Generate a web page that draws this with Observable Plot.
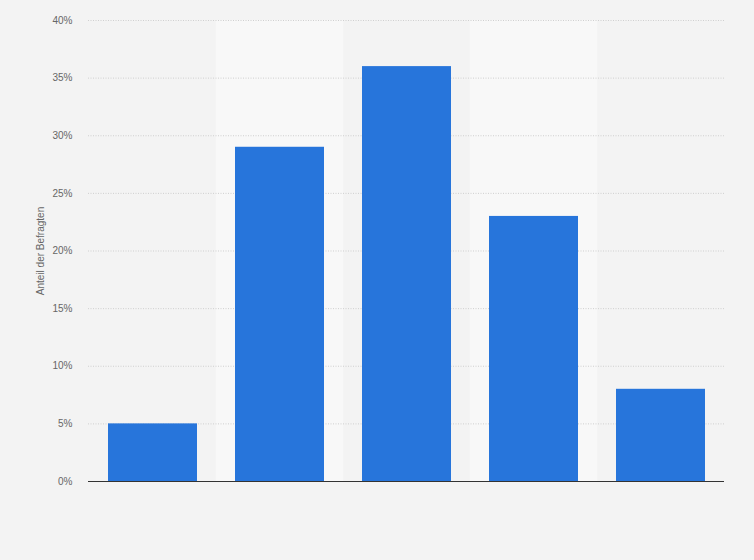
<!DOCTYPE html>
<html>
<head>
<meta charset="utf-8">
<script src="https://cdn.jsdelivr.net/npm/d3@7"></script>
<script src="https://cdn.jsdelivr.net/npm/@observablehq/plot@0.6"></script>
<style>
  html, body { margin: 0; padding: 0; background: #f3f3f3; }
  #chart svg { display: block; }
</style>
</head>
<body>
<div id="chart"></div>
<script>
const categories = ["1", "2", "3", "4", "5"];
const values = [5, 29, 36, 23, 8];
const yTicks = [0, 5, 10, 15, 20, 25, 30, 35, 40];
const shadedCategories = ["2", "4"];

const data = categories.map((c, i) => ({category: c, value: values[i]}));
const bands = shadedCategories.map(c => ({category: c}));

const chart = Plot.plot({
  width: 754,
  height: 560,
  marginLeft: 88,
  marginRight: 30,
  marginTop: 20,
  marginBottom: 79,
  style: {background: "#f3f3f3", fontFamily: "'Liberation Sans', Arial, sans-serif", fontSize: "10px", color: "#666"},
  x: {domain: categories, paddingInner: 0.3, paddingOuter: 0.15, axis: null},
  y: {domain: [0, 40], ticks: yTicks},
  marks: [
    Plot.barY(bands, {x: "category", y1: 0, y2: 40, fill: "#f8f8f8", insetLeft: -19.08, insetRight: -19.08}),
    Plot.ruleY(yTicks.filter(t => t > 0), {stroke: "#cfcfcf", strokeDasharray: "1,1.5", strokeWidth: 1}),
    Plot.barY(data, {x: "category", y: "value", fill: "#2775db"}),
    Plot.ruleY([0], {stroke: "#333", strokeWidth: 1.2}),
    Plot.axisY({
      ticks: yTicks,
      tickSize: 0,
      tickPadding: 16,
      tickFormat: d => d + "%",
      label: "Anteil der Befragten",
      labelAnchor: "center",
      labelOffset: 52,
      labelArrow: "none",
      fill: "#666",
      fontSize: 10
    })
  ]
});
document.getElementById("chart").appendChild(chart);
</script>
</body>
</html>
